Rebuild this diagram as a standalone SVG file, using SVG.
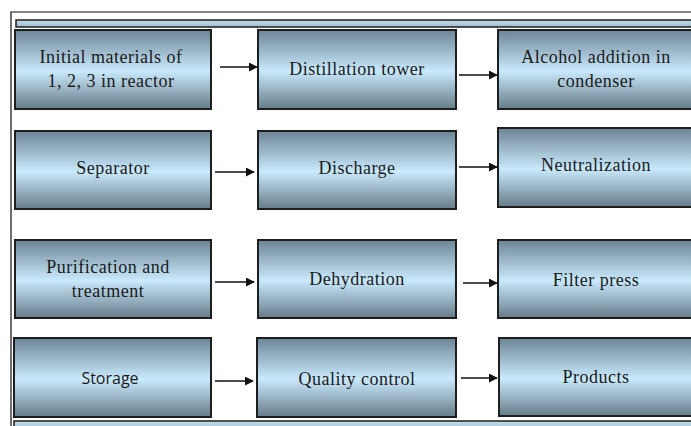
<svg xmlns="http://www.w3.org/2000/svg" width="691" height="426" viewBox="0 0 691 426">
  <defs>
    <linearGradient id="boxFill" x1="0" y1="0" x2="0" y2="1">
      <stop offset="0" stop-color="#6c8595"/>
      <stop offset="0.52" stop-color="#c9e9fc"/>
      <stop offset="1" stop-color="#667c89"/>
    </linearGradient>
    <linearGradient id="barFill" x1="0" y1="0" x2="0" y2="1">
      <stop offset="0" stop-color="#c4dcea"/>
      <stop offset="1" stop-color="#9fbdd0"/>
    </linearGradient>
    <marker id="arrow" viewBox="0 0 10 10" refX="9" refY="5" markerWidth="9" markerHeight="9" markerUnits="userSpaceOnUse" orient="auto">
      <path d="M0,0 L10,5 L0,10 z" fill="#111"/>
    </marker>
  </defs>
  <style>
    .box { fill: url(#boxFill); stroke: #1e1e1e; stroke-width: 2; }
    .bar { fill: url(#barFill); stroke: #1e1e1e; stroke-width: 1.5; }
    .frame { fill: none; stroke: #111; stroke-width: 1.2; }
    .lbl { font-family: "Liberation Serif", "DejaVu Serif", "Times New Roman", serif; font-size: 18px; letter-spacing: 0.5px; fill: #1a1a1a; text-anchor: middle; }
    .sans { font-family: "Open Sans", "DejaVu Sans", sans-serif; font-size: 16px; letter-spacing: 0; }
    .conn { stroke: #111; stroke-width: 1.6; fill: none; marker-end: url(#arrow); }
  </style>

  <rect width="691" height="426" fill="#ffffff"/>

  <!-- outer frame and header/footer bars -->
  <path class="frame" d="M11,426 V12 H700"/>
  <rect class="bar" x="16" y="20" width="690" height="7"/>
  <rect class="bar" x="14" y="421" width="690" height="10"/>

  <!-- row 1 -->
  <g id="n-initial">
    <rect class="box" x="15" y="30" width="196" height="79"/>
    <text class="lbl" x="111" y="63">Initial materials of</text>
    <text class="lbl" x="111" y="87">1, 2, 3 in reactor</text>
  </g>
  <g id="n-distillation">
    <rect class="box" x="258" y="30" width="198" height="79"/>
    <text class="lbl" x="357" y="75">Distillation tower</text>
  </g>
  <g id="n-alcohol">
    <rect class="box" x="498" y="30" width="197" height="79"/>
    <text class="lbl" x="596" y="63">Alcohol addition in</text>
    <text class="lbl" x="596" y="87">condenser</text>
  </g>

  <!-- row 2 -->
  <g id="n-separator">
    <rect class="box" x="15" y="131" width="196" height="78"/>
    <text class="lbl" x="113" y="174">Separator</text>
  </g>
  <g id="n-discharge">
    <rect class="box" x="258" y="131" width="198" height="78"/>
    <text class="lbl" x="357" y="174">Discharge</text>
  </g>
  <g id="n-neutralization">
    <rect class="box" x="498" y="128" width="197" height="79"/>
    <text class="lbl" x="596" y="171">Neutralization</text>
  </g>

  <!-- row 3 -->
  <g id="n-purification">
    <rect class="box" x="15" y="240" width="196" height="78"/>
    <text class="lbl" x="108" y="273">Purification and</text>
    <text class="lbl" x="108" y="297">treatment</text>
  </g>
  <g id="n-dehydration">
    <rect class="box" x="258" y="240" width="198" height="78"/>
    <text class="lbl" x="357" y="285">Dehydration</text>
  </g>
  <g id="n-filter">
    <rect class="box" x="498" y="240" width="197" height="78"/>
    <text class="lbl" x="596" y="286">Filter press</text>
  </g>

  <!-- row 4 -->
  <g id="n-storage">
    <rect class="box" x="14" y="338" width="197" height="79"/>
    <text class="lbl sans" x="110" y="384">Storage</text>
  </g>
  <g id="n-quality">
    <rect class="box" x="257" y="338" width="199" height="79"/>
    <text class="lbl" x="357" y="385">Quality control</text>
  </g>
  <g id="n-products">
    <rect class="box" x="499" y="338" width="196" height="78"/>
    <text class="lbl" x="596" y="383">Products</text>
  </g>

  <!-- connectors -->
  <g id="connectors">
    <line class="conn" x1="220" y1="67" x2="257" y2="67"/>
    <line class="conn" x1="459" y1="75" x2="497" y2="75"/>
    <line class="conn" x1="215" y1="172" x2="254" y2="172"/>
    <line class="conn" x1="459" y1="167" x2="497" y2="167"/>
    <line class="conn" x1="215" y1="282" x2="254" y2="282"/>
    <line class="conn" x1="463" y1="283" x2="497" y2="283"/>
    <line class="conn" x1="215" y1="381" x2="253" y2="381"/>
    <line class="conn" x1="461" y1="378" x2="497" y2="378"/>
  </g>
</svg>
